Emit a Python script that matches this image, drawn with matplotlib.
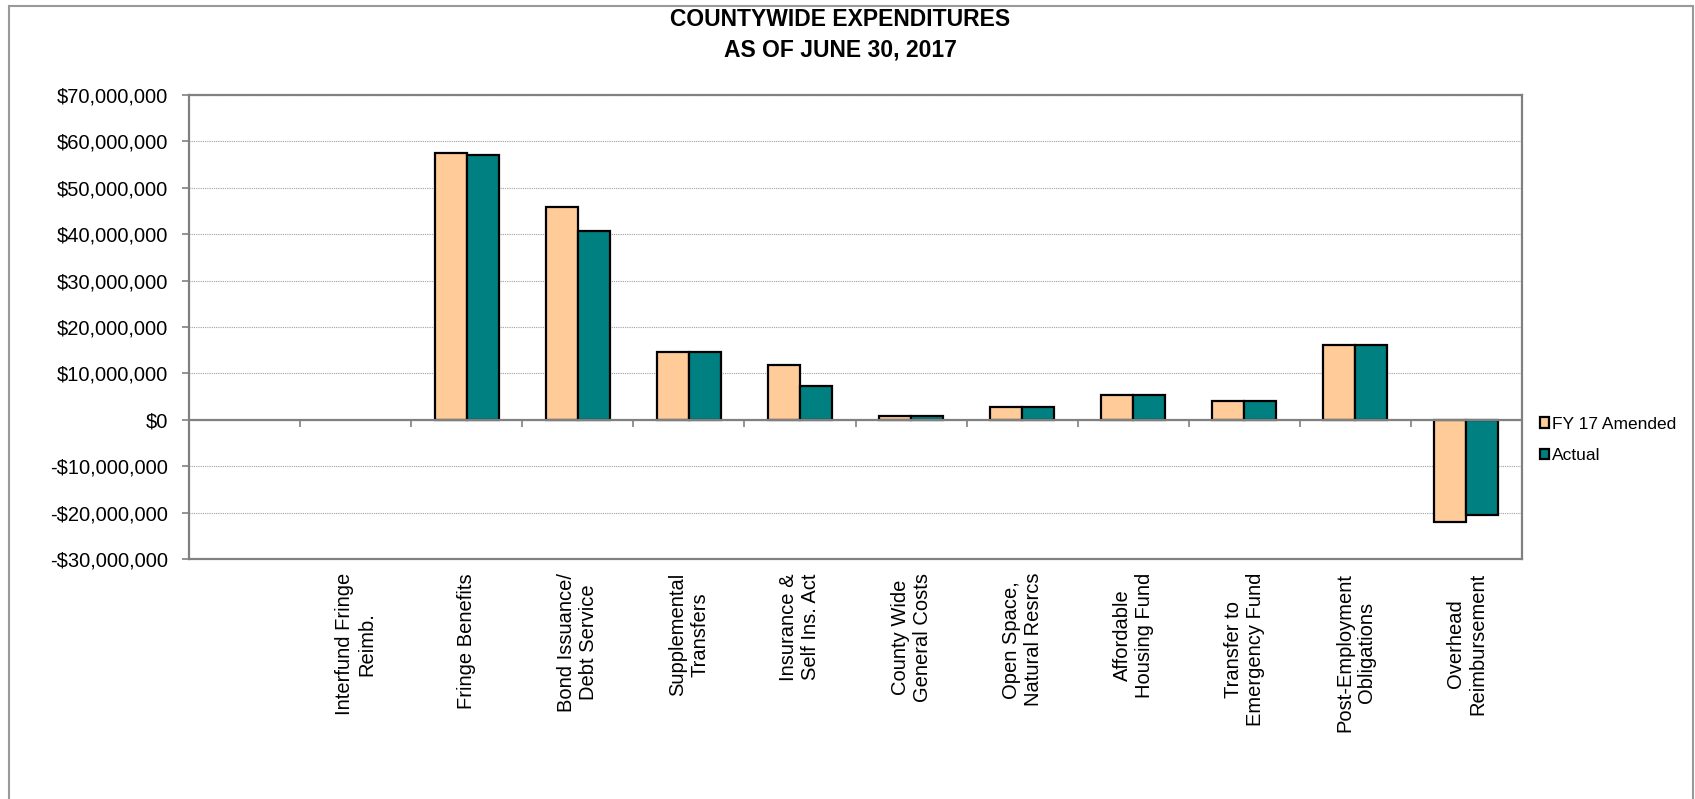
import matplotlib
matplotlib.use("Agg")
import matplotlib.pyplot as plt
import matplotlib.patches as mpatches
import numpy as np
from matplotlib.ticker import FuncFormatter

plt.rcParams['font.family'] = ['Liberation Sans', 'DejaVu Sans']

# Chart data (values in dollars)
categories = [
    "",
    "Interfund Fringe\nReimb.",
    "Fringe Benefits",
    "Bond Issuance/\nDebt Service",
    "Supplemental\nTransfers",
    "Insurance &\nSelf Ins. Act",
    "County Wide\nGeneral Costs",
    "Open Space,\nNatural Resrcs",
    "Affordable\nHousing Fund",
    "Transfer to\nEmergency Fund",
    "Post-Employment\nObligations",
    "Overhead\nReimbursement",
]
fy17_amended = [0, 0, 57.6e6, 45.8e6, 14.7e6, 11.8e6, 0.9e6, 2.7e6, 5.4e6, 4.0e6, 16.2e6, -22.0e6]
actual = [0, 0, 57.1e6, 40.6e6, 14.7e6, 7.2e6, 0.8e6, 2.7e6, 5.4e6, 4.0e6, 16.2e6, -20.5e6]
series_names = ["FY 17 Amended", "Actual"]
title_lines = ["COUNTYWIDE EXPENDITURES", "AS OF JUNE 30, 2017"]

y_min, y_max, y_step = -30e6, 70e6, 10e6

amended_color = '#FFCC99'
actual_color = '#008080'
axis_gray = '#808080'

fig = plt.figure(figsize=(16.95, 7.99), dpi=100)
ax = fig.add_axes([189 / 1695, 1 - 559 / 799, (1522 - 189) / 1695, (559 - 95) / 799])

x = np.arange(len(categories))
bar_w = 0.288
# zero-valued bars draw nothing (no outline on the axis)
amended_lw = [0 if v == 0 else 1.6 for v in fy17_amended]
actual_lw = [0 if v == 0 else 1.6 for v in actual]
ax.bar(x - bar_w / 2, fy17_amended, bar_w, color=amended_color, edgecolor='black',
       linewidth=amended_lw, zorder=3)
ax.bar(x + bar_w / 2, actual, bar_w, color=actual_color, edgecolor='black',
       linewidth=actual_lw, zorder=3)

ax.set_xlim(-0.5, len(categories) - 0.5)
ax.set_ylim(y_min, y_max)
ax.set_yticks(np.arange(y_min, y_max + 1, y_step))


def money(v, pos):
    if v < 0:
        return "-${:,.0f}".format(-v)
    return "${:,.0f}".format(v)


ax.yaxis.set_major_formatter(FuncFormatter(money))
ax.tick_params(axis='y', labelsize=14.5, length=5, width=1.2, color=axis_gray, pad=10)

# dotted gridlines
ax.yaxis.grid(True, linestyle=(0, (1, 1)), color='#a0a0a0', linewidth=0.8, zorder=0)
ax.set_axisbelow(True)

# category labels at the bottom of the plot box
ax.set_xticks(x)
ax.set_xticklabels(categories, rotation=90, fontsize=14.5, va='top', ha='center')
ax.tick_params(axis='x', length=0, pad=10)

# category axis along zero with its small ticks
ax.axhline(0, color=axis_gray, linewidth=1.6, zorder=4)
ax.vlines(np.arange(len(categories)) + 0.5, -1.5e6, 0, color=axis_gray, linewidth=1.2, zorder=4)

for s in ax.spines.values():
    s.set_color(axis_gray)
    s.set_linewidth(1.6)

# title
fig.text(840 / 1695, 1 - 20 / 799, title_lines[0], ha='center', va='center',
         fontsize=16.5, fontweight='bold')
fig.text(840 / 1695, 1 - 50 / 799, title_lines[1], ha='center', va='center',
         fontsize=16.5, fontweight='bold')

# legend
handles = [mpatches.Patch(facecolor=c, edgecolor='black', linewidth=1.6)
           for c in (amended_color, actual_color)]
fig.legend(handles, series_names, loc='center left', bbox_to_anchor=(1531 / 1695, 1 - 440 / 799),
           frameon=False, fontsize=12.5, handlelength=0.55, handleheight=0.55,
           handletextpad=0.15, labelspacing=0.95, borderpad=0)

# outer chart border
fig.patches.append(mpatches.Rectangle((9 / 1695, -0.02), (1693 - 9) / 1695, 1.02 - 6 / 799,
                                      transform=fig.transFigure, fill=False,
                                      edgecolor='#999999', linewidth=1.5))

fig.savefig('out.png', dpi=100)
